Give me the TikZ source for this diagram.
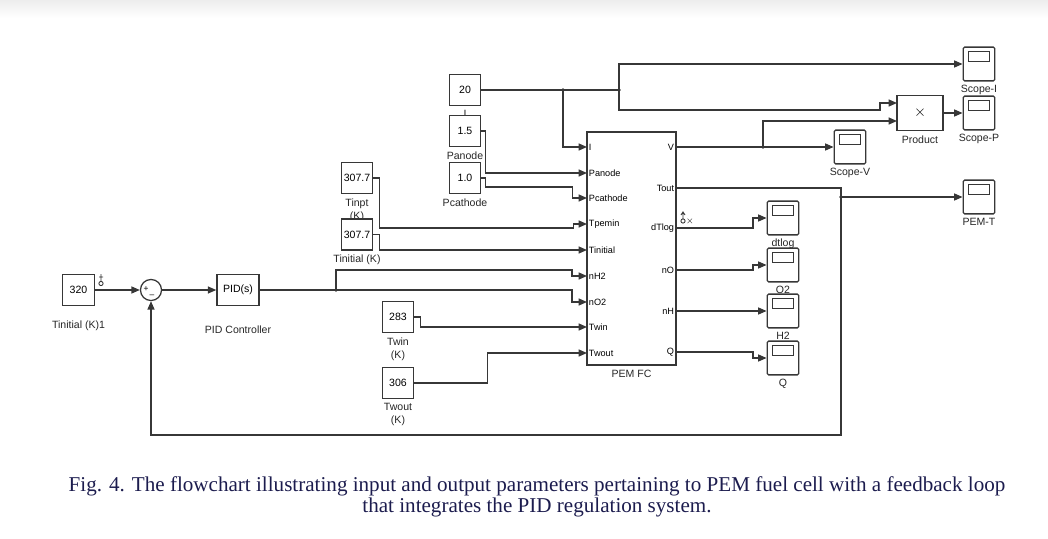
\documentclass[tikz,border=0pt]{standalone}
\usepackage{fontspec}
\setmainfont{Liberation Serif}
\setsansfont{Liberation Sans}
\usepackage{tikz}
\usetikzlibrary{arrows.meta,positioning}
\definecolor{LineGray}{RGB}{55,55,55}
\definecolor{CapNavy}{RGB}{28,28,78}

\begin{document}
\begin{tikzpicture}[x=0.025cm, y=-0.025cm,
		blk/.style={draw=LineGray, line width=0.9pt, fill=white, inner sep=0pt, font=\sffamily\fontsize{7.5}{9}\selectfont},
		cst/.style={blk, minimum width=22.5pt, minimum height=22pt},
		scp/.style={blk, rounded corners=1pt, minimum width=22.5pt, minimum height=24pt,
			path picture={\draw[LineGray, line width=0.8pt, sharp corners]
				([xshift=3.5pt,yshift=-2.8pt]path picture bounding box.north west) rectangle
				([xshift=-3.5pt,yshift=-10pt]path picture bounding box.north east);}},
		lbl/.style={font=\sffamily\fontsize{7.5}{9.3}\selectfont, text=black!85, inner sep=0pt, align=center},
		port/.style={font=\sffamily\fontsize{6.5}{7}\selectfont, inner sep=1.2pt},
		sig/.style={draw=LineGray, line width=0.9pt},
		arr/.style={sig, -{Triangle[length=6pt,width=5pt]}}
	]
	\useasboundingbox (0,0) rectangle (1048,539);
	\fill[top color=black!7, bottom color=white] (0,0) rectangle (1048,18);

	% 给定值与PID
	\node[cst, label={[lbl,label distance=10pt]below:Tinitial (K)1}] (c320) at (78.5,290) {320};
	\node[draw=LineGray, line width=0.9pt, circle, minimum size=15pt, inner sep=0pt] (sum) at (151,290) {};
	\node[port, font=\sffamily\fontsize{6}{6}\selectfont, inner sep=0pt] (splus) at (146,289) {+};
	\node[port, font=\sffamily\fontsize{6}{6}\selectfont, inner sep=0pt] (sminus) at (152,296) {--};
	\node[blk, minimum width=30pt, minimum height=22pt, label={[lbl,label distance=14pt]below:PID Controller}] (pid) at (238,290) {PID(s)};
	\coordinate (split) at (336,290);
	\draw[LineGray, line width=0.6pt] (101,283.5) circle (1.5pt) (101,281) -- (101,274) (99,277) -- (103,277);

	% 常数输入
	\node[cst, label={[lbl,label distance=3pt]below:I}] (c20) at (465,90) {20};
	\node[cst, label={[lbl,label distance=3pt]below:Panode}] (c15) at (465,131) {1.5};
	\node[cst, label={[lbl,label distance=3pt]below:Pcathode}] (c10) at (465,178) {1.0};
	\node[cst, label={[lbl,label distance=3pt]below:Tinpt\\(K)}] (ctinpt) at (357,178) {307.7};
	\node[cst, label={[lbl,label distance=3pt]below:Tinitial (K)}] (ctinit) at (357,234.5) {307.7};
	\node[cst, label={[lbl,label distance=3pt]below:Twin\\(K)}] (c283) at (398,317) {283};
	\node[cst, label={[lbl,label distance=3pt]below:Twout\\(K)}] (c306) at (398,383) {306};

	% PEM FC 模块
	\node[blk, minimum width=63.3pt, minimum height=165.7pt, label={[lbl,label distance=3pt]below:PEM FC}] (pem) at (631.5,248.5) {};
	\coordinate (inI) at (587,147);
	\coordinate (inPa) at (587,173);
	\coordinate (inPc) at (587,198);
	\coordinate (inTp) at (587,224);
	\coordinate (inTi) at (587,250);
	\coordinate (inH2) at (587,276);
	\coordinate (inO2) at (587,302);
	\coordinate (inTw) at (587,327);
	\coordinate (inTo) at (587,353);
	\coordinate (outV) at (676,147);
	\coordinate (outT) at (676,188);
	\coordinate (outdT) at (676,228);
	\coordinate (outnO) at (676,270);
	\coordinate (outnH) at (676,311);
	\coordinate (outQ) at (676,352);
	\node[port, anchor=west] (tI) at (inI) {I};
	\node[port, anchor=west] (tPa) at (inPa) {Panode};
	\node[port, anchor=west] (tPc) at (inPc) {Pcathode};
	\node[port, anchor=west] (tTp) at (inTp) {Tpemin};
	\node[port, anchor=west] (tTi) at (inTi) {Tinitial};
	\node[port, anchor=west] (tH2) at (inH2) {nH2};
	\node[port, anchor=west] (tO2) at (inO2) {nO2};
	\node[port, anchor=west] (tTw) at (inTw) {Twin};
	\node[port, anchor=west] (tTo) at (inTo) {Twout};
	\node[port, anchor=east] (tV) at (outV) {V};
	\node[port, anchor=east] (tT) at (outT) {Tout};
	\node[port, anchor=east] (tdT) at (outdT) {dTlog};
	\node[port, anchor=east] (tnO) at (outnO) {nO};
	\node[port, anchor=east] (tnH) at (outnH) {nH};
	\node[port, anchor=east] (tQ) at (outQ) {Q};
	\draw[LineGray, line width=0.6pt] (683,221) circle (1.5pt) (683,218.5) -- (683,212) (681,215) -- (683,212) -- (685,215);
	\node[port, inner sep=0pt] (tx) at (690,221) {$\times$};

	% 输出
	\node[blk, minimum width=32.7pt, minimum height=25pt, font=\fontsize{11}{11}\selectfont, label={[lbl,label distance=3pt]below:Product}] (product) at (920,113) {$\times$};
	\coordinate (pIn1) at (897,103);
	\coordinate (pIn2) at (897,121);
	\node[scp, label={[lbl,label distance=2.5pt]below:Scope-I}] (scopeI) at (979,64) {};
	\node[scp, label={[lbl,label distance=2.5pt]below:Scope-P}] (scopeP) at (979,113) {};
	\node[scp, label={[lbl,label distance=2.5pt]below:Scope-V}] (scopeV) at (850,147) {};
	\node[scp, label={[lbl,label distance=2.5pt]below:PEM-T}] (scopeT) at (979,197) {};
	\node[scp, label={[lbl,label distance=2.5pt]below:dtlog}] (sdT) at (783,218) {};
	\node[scp, label={[lbl,label distance=2.5pt]below:O2}] (sO2) at (783,265) {};
	\node[scp, label={[lbl,label distance=2.5pt]below:H2}] (sH2) at (783,311) {};
	\node[scp, label={[lbl,label distance=2.5pt]below:Q}] (sQ) at (783,358) {};
	\coordinate (dotA) at (563,90);
	\coordinate (dotB) at (619,90);
	\coordinate (dotV) at (763,147);
	\coordinate (dotT) at (841,197);
	\coordinate (fbR) at (841,435);

	% 连线
	\draw[arr] (c320) -- (sum);
	\draw[arr] (sum) -- (pid);
	\draw[sig] (pid) -- (split);
	\draw[arr] (split) |- ++(236,-20) |- (inH2);
	\draw[arr] (split) -- ++(236,0) |- (inO2);
	\draw[sig] (c20) -- (dotA) -- (dotB);
	\draw[arr] (dotA) |- (inI);
	\draw[arr] (dotB) |- (scopeI);
	\draw[arr] (dotB) |- ++(261,20) |- (pIn1);
	\draw[arr] (c15.east) -- ++(4,0) |- (inPa);
	\draw[arr] (c10.east) -- ++(4,0) |- ++(87,9) |- (inPc);
	\draw[arr] (ctinpt.east) -- ++(6,0) |- ++(194,50) |- (inTp);
	\draw[arr] (ctinit.east) -- ++(6,0) |- (inTi);
	\draw[arr] (c283.east) -- ++(6,0) |- (inTw);
	\draw[arr] (c306.east) -- ++(73,0) |- (inTo);
	\draw[sig] (outV) -- (dotV);
	\draw[arr] (dotV) -- (scopeV);
	\draw[arr] (dotV) |- (pIn2);
	\draw[arr] (product) -- (scopeP);
	\draw[arr] (outT) -| (fbR) -| (sum);
	\draw[arr] (dotT) -- (scopeT);
	\draw[arr] (outdT) -- ++(77,0) |- (sdT);
	\draw[arr] (outnO) -- ++(77,0) |- (sO2);
	\draw[arr] (outnH) -- (sH2);
	\draw[arr] (outQ) -- ++(77,0) |- (sQ);
	\fill[LineGray] (split) circle (1.3pt) (dotA) circle (1.3pt) (dotB) circle (1.3pt) (dotV) circle (1.3pt) (dotT) circle (1.3pt);

	% 图注
	\node[font=\fontsize{15}{15.2}\selectfont, text=CapNavy, align=center] (cap) at (537,497)
		{Fig. 4. The flowchart illustrating input and output parameters pertaining to PEM fuel cell with a feedback loop\\
		that integrates the PID regulation system.};
\end{tikzpicture}
\end{document}
